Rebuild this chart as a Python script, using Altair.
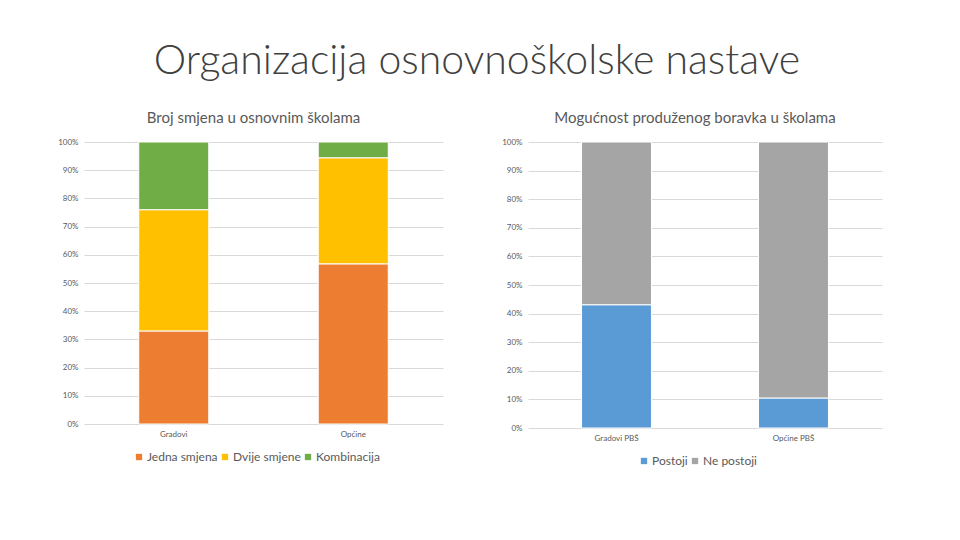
import altair as alt
import pandas as pd

# Left chart data
left_cats = ["Gradovi", "Općine"]
left_series = ["Jedna smjena", "Dvije smjene", "Kombinacija"]
jedna = [33.0, 56.8]
dvije = [43.0, 37.6]
kombinacija = [24.0, 5.6]
left_colors = ["#ED7D31", "#FFC000", "#70AD47"]

# Right chart data
right_cats = ["Gradovi PBŠ", "Općine PBŠ"]
right_series = ["Postoji", "Ne postoji"]
postoji = [43.1, 10.5]
ne_postoji = [56.9, 89.5]
right_colors = ["#5B9BD5", "#A5A5A5"]

FONT = "Lato"
TXT = "#595959"
GRID = "#D9D9D9"

rows = []
for i, c in enumerate(left_cats):
    for k, (s, vals) in enumerate(zip(left_series, [jedna, dvije, kombinacija])):
        rows.append({"cat": c, "series": s, "value": vals[i], "ord": k})
left_df = pd.DataFrame(rows)

rows = []
for i, c in enumerate(right_cats):
    for k, (s, vals) in enumerate(zip(right_series, [postoji, ne_postoji])):
        rows.append({"cat": c, "series": s, "value": vals[i], "ord": k})
right_df = pd.DataFrame(rows)

yaxis = alt.Axis(
    format=".0%", values=[i / 10 for i in range(11)], title=None,
    labelFontSize=8, labelColor=TXT, labelFont=FONT, grid=True, gridColor=GRID,
    ticks=False, domain=False, labelPadding=6, minExtent=60, maxExtent=60,
)


def panel(df, cats, series, colors, title, w, h, lx, ly, pin, pout):
    return alt.Chart(df).mark_bar(stroke="white", strokeWidth=1).encode(
        x=alt.X("cat:N", sort=cats, title=None,
                scale=alt.Scale(paddingInner=pin, paddingOuter=pout),
                axis=alt.Axis(labelAngle=0, labelFontSize=8, labelColor=TXT,
                              labelFont=FONT, ticks=False, domain=False,
                              grid=False, labelPadding=6)),
        y=alt.Y("value:Q", stack="normalize", scale=alt.Scale(domain=[0, 1]),
                axis=yaxis),
        color=alt.Color("series:N", sort=series,
                        scale=alt.Scale(domain=series, range=colors),
                        legend=alt.Legend(title=None, orient="none",
                                          direction="horizontal",
                                          legendX=lx, legendY=ly,
                                          labelFont=FONT, labelFontSize=12,
                                          labelColor=TXT, symbolType="square",
                                          symbolSize=40, symbolStrokeWidth=0,
                                          columnPadding=1, labelOffset=2)),
        order=alt.Order("ord:Q", sort="ascending"),
    ).properties(
        width=w, height=h,
        view=alt.ViewBackground(stroke="transparent", strokeWidth=0),
        title=alt.TitleParams(title, fontSize=15, font=FONT, color=TXT,
                              fontWeight="normal", anchor="middle", dx=-10,
                              offset=12),
    )


left = panel(left_df, left_cats, left_series, left_colors,
             "Broj smjena u osnovnim školama", 359, 282, 49, 309, 0.61, 0.305)
right = panel(right_df, right_cats, right_series, right_colors,
              "Mogućnost produženog boravka u školama", 354, 286, 110, 313,
              0.605, 0.3025)

chart = alt.hconcat(left, right, spacing=25).resolve_scale(
    color="independent", x="independent", y="independent"
).properties(
    title=alt.TitleParams("Organizacija osnovnoškolske nastave", fontSize=41,
                          font=FONT, fontWeight=300, color="#404040",
                          anchor="middle", dx=24, offset=28),
    padding={"left": 16, "top": 33, "right": 10, "bottom": 10},
).configure_view(stroke="transparent", strokeWidth=0).configure(background="white")

chart.save("out.html", embed_options={"renderer": "svg", "actions": False})
